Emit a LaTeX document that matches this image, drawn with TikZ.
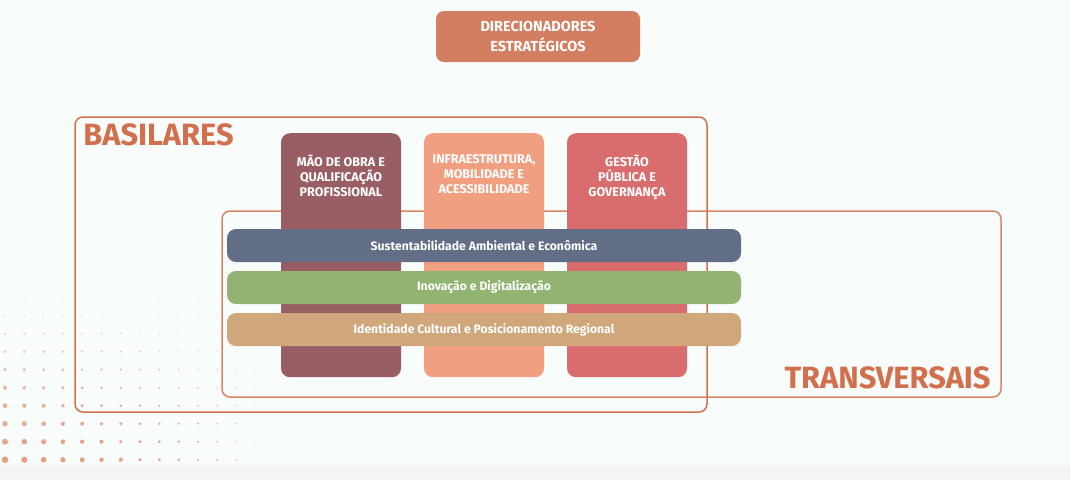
\documentclass[tikz,border=0pt]{standalone}
\usepackage{fontspec}
\setmainfont{Fira Sans}
\usetikzlibrary{positioning}
\definecolor{canvas}{HTML}{F8FCFB}
\definecolor{strip}{HTML}{F4F4F4}
\definecolor{dotc}{HTML}{E4A083}
\definecolor{terra}{HTML}{D2704E}
\definecolor{terralight}{HTML}{D98567}
\definecolor{dirfill}{HTML}{D37E60}
\definecolor{maoc}{HTML}{995E63}
\definecolor{infrac}{HTML}{F0A080}
\definecolor{gestc}{HTML}{D96D6E}
\definecolor{sustc}{HTML}{626E86}
\definecolor{inovc}{HTML}{93B373}
\definecolor{identc}{HTML}{CFA77A}
\tikzset{frame/.style = {draw=#1, line width=1.5, rounded corners=8, inner sep=0}}
\tikzset{pillar/.style = {fill=#1, rounded corners=9, minimum width=120, minimum height=244,
                          inner sep=0, anchor=north}}
\tikzset{pillartext/.style = {text=white, align=center, inner sep=0, anchor=north,
                              font=\bfseries\fontsize{12.6}{15}\selectfont,
                              execute at begin node=\vphantom{Ã}}}
\tikzset{band/.style = {fill=#1, rounded corners=9, minimum width=514, minimum height=33,
                        inner sep=0, text=white, font=\bfseries\fontsize{12.2}{14}\selectfont}}
\tikzset{heading/.style = {text=terra, inner sep=0, font=\bfseries\fontsize{30.8}{31}\selectfont}}

\begin{document}
\begin{tikzpicture}[x=1pt, y=-1pt]
    \useasboundingbox (0,0) rectangle (1070,480);
    \fill [canvas] (0,0) rectangle (1070,465);
    \fill [strip] (0,465) rectangle (1070,480);
    % dotted corner
    \foreach \i in {0,...,9}
      \foreach \j in {0,...,13} {
        \pgfmathsetmacro{\r}{0.5 + 2.8*(\i/9)*(1 - \j/13)}
        \pgfmathsetmacro{\o}{0.45 + 0.55*\i/9}
        \fill [dotc, opacity=\o] (5 + 19.3*\j, 297.7 + 18*\i) circle [radius=\r pt];
      }
    % frames
    \node [frame=terralight, minimum width=779, minimum height=186] (trans) at (611.5, 304) {};
    \node [frame=terra, minimum width=632, minimum height=295] (basil) at (391, 264.5) {};
    \node [heading, anchor=base west] at ([xshift=9pt, yshift=-29.7pt]basil.north west) {BASILARES};
    \node [heading, anchor=base east] at ([xshift=-11pt, yshift=9pt]trans.south east) {TRANSVERSAIS};
    % top box
    \node [fill=dirfill, rounded corners=8, minimum width=204, minimum height=51, inner sep=0,
           text=white, align=center, font=\bfseries\fontsize{14.5}{20}\selectfont] (dir)
           at (538, 36.5) {DIRECIONADORES\\ESTRATÉGICOS};
    % pillars
    \node [pillar=maoc] (mao) at (341, 133) {};
    \node [pillar=infrac] (infra) at (484, 133) {};
    \node [pillar=gestc] (gest) at (627, 133) {};
    \node [pillartext] at ([yshift=-21.4pt]mao.north) {MÃO DE OBRA E\\QUALIFICAÇÃO\\PROFISSIONAL};
    \node [pillartext] at ([yshift=-21.4pt]infra.north) {INFRAESTRUTURA,\\MOBILIDADE E\\ACESSIBILIDADE};
    \node [pillartext] at ([yshift=-21.4pt]gest.north) {GESTÃO\\PÚBLICA E\\GOVERNANÇA};
    % bands
    \node [band=sustc] (sust) at (484, 245.5) {Sustentabilidade Ambiental e Econômica};
    \node [band=inovc] (inov) at (484, 287.5) {Inovação e Digitalização};
    \node [band=identc] (ident) at (484, 329.5) {Identidade Cultural e Posicionamento Regional};
  \end{tikzpicture}
\end{document}
